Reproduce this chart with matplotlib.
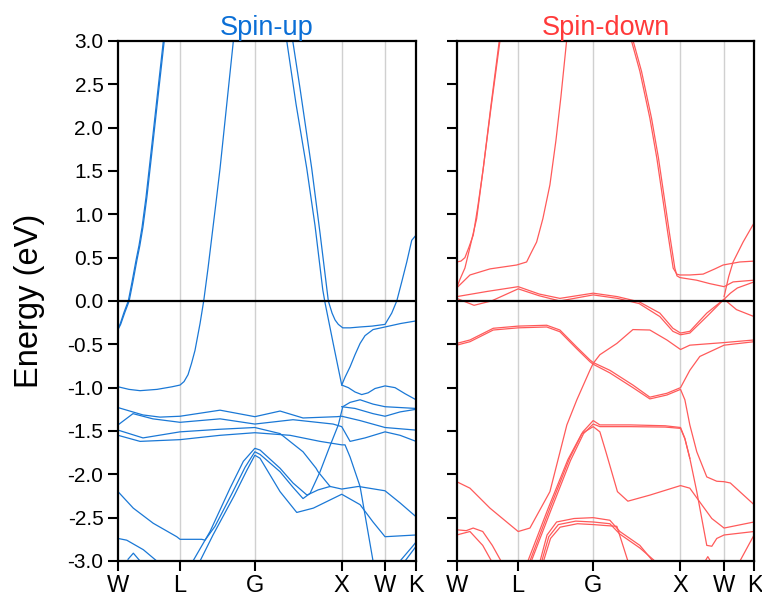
import matplotlib
matplotlib.use("Agg")
import matplotlib.pyplot as plt

plt.rcParams['font.family'] = ['Liberation Sans', 'DejaVu Sans']
plt.rcParams['axes.unicode_minus'] = False

# high-symmetry points along the FCC path (units of 2*pi/a)
kpath_labels = ["W", "L", "G", "X", "W", "K"]
kpath_pos = [0.0, 0.7071, 1.5731, 2.5731, 3.0731, 3.4267]

energy_ticks = [3.0, 2.5, 2.0, 1.5, 1.0, 0.5, 0.0, -0.5, -1.0, -1.5, -2.0, -2.5, -3.0]

# ---- spin-up bands: (k, E) ----
up_bands = [
    ([0, 0.023, 0.069, 0.118, 0.161, 0.207, 0.241, 0.276, 0.322, 0.391, 0.460, 0.521, 0.558],
     [-0.31, -0.27, -0.13, 0.0, 0.22, 0.47, 0.64, 0.85, 1.20, 1.82, 2.45, 3.0, 3.33]),
    ([0, 0.030, 0.079, 0.128, 0.171, 0.217, 0.251, 0.286, 0.332, 0.401, 0.470, 0.531, 0.568],
     [-0.33, -0.27, -0.13, 0.0, 0.22, 0.47, 0.64, 0.85, 1.20, 1.82, 2.45, 3.0, 3.33]),
    ([0, 0.126, 0.253, 0.448, 0.621, 0.713, 0.759, 0.805, 0.845, 0.885, 0.943, 0.985, 1.035, 1.081, 1.127, 1.173, 1.248, 1.326, 1.357],
     [-0.99, -1.02, -1.035, -1.02, -0.99, -0.97, -0.93, -0.85, -0.72, -0.57, -0.26, 0.0, 0.38, 0.76, 1.14, 1.53, 2.25, 3.0, 3.3]),
    ([1.972, 2.009, 2.093, 2.227, 2.323, 2.418, 2.461, 2.496, 2.533, 2.584, 2.668, 2.783, 2.921, 3.070, 3.147, 3.205, 3.262, 3.320, 3.377, 3.427],
     [3.25, 3.0, 2.45, 1.53, 0.78, 0.0, -0.14, -0.22, -0.27, -0.31, -0.31, -0.30, -0.29, -0.27, -0.14, 0.0, 0.22, 0.45, 0.70, 0.76]),
    ([1.907, 1.940, 2.047, 2.170, 2.265, 2.354, 2.380, 2.476, 2.572, 2.648, 2.725, 2.802, 2.875, 2.955, 3.070, 3.185, 3.300, 3.427],
     [3.25, 3.0, 2.27, 1.53, 0.87, 0.13, -0.02, -0.50, -0.97, -1.0, -1.05, -1.08, -1.06, -1.01, -0.98, -1.0, -1.07, -1.14]),
    ([2.572, 2.610, 2.668, 2.725, 2.783, 2.840, 2.932, 3.070, 3.25, 3.427],
     [-0.97, -0.88, -0.76, -0.62, -0.49, -0.40, -0.33, -0.30, -0.26, -0.23]),
    ([0, 0.287, 0.483, 0.713, 1.173, 1.573, 1.863, 2.127, 2.518, 2.572, 2.783, 3.070, 3.427],
     [-1.23, -1.315, -1.34, -1.33, -1.26, -1.335, -1.27, -1.35, -1.335, -1.33, -1.38, -1.46, -1.49]),
    ([0, 0.172, 0.40, 0.713, 1.173, 1.573, 2.012, 2.472, 2.572, 2.668, 2.840, 3.070, 3.243, 3.427],
     [-1.43, -1.30, -1.36, -1.40, -1.36, -1.42, -1.37, -1.42, -1.45, -1.62, -1.58, -1.51, -1.55, -1.62]),
    ([2.572, 2.725, 2.932, 3.070, 3.243, 3.427],
     [-1.22, -1.24, -1.30, -1.33, -1.28, -1.25]),
    ([0, 0.287, 0.713, 1.173, 1.573, 1.863, 2.127, 2.277, 2.30, 2.438],
     [-1.49, -1.58, -1.51, -1.48, -1.46, -1.53, -1.74, -1.93, -1.97, -2.14]),
    ([0, 0.253, 0.713, 1.173, 1.573, 1.978, 2.323, 2.572, 2.610, 2.668, 2.783, 2.932],
     [-1.55, -1.62, -1.60, -1.55, -1.52, -1.55, -1.62, -1.66, -1.66, -1.80, -2.14, -3.0]),
    # three bands peaking at G
    ([0.862, 1.058, 1.288, 1.441, 1.573, 1.633, 1.863, 2.012, 2.173, 2.300, 2.438, 2.572, 2.764, 3.070, 3.243, 3.427],
     [-3.0, -2.66, -2.16, -1.85, -1.70, -1.72, -1.93, -2.10, -2.24, -2.18, -2.14, -2.17, -2.14, -2.19, -2.33, -2.49]),
    ([0, 0.175, 0.405, 0.675, 0.713, 0.963, 1.000, 1.115, 1.311, 1.460, 1.573, 1.633, 1.863, 2.012, 2.127, 2.208, 2.323, 2.426, 2.533, 2.584, 2.668, 2.783, 2.932, 3.070, 3.427],
     [-2.20, -2.39, -2.565, -2.72, -2.75, -2.75, -2.76, -2.60, -2.22, -1.92, -1.74, -1.77, -1.97, -2.15, -2.28, -2.22, -1.97, -1.70, -1.43, -1.22, -1.17, -1.14, -1.19, -1.22, -1.24]),
    ([0.943, 1.092, 1.334, 1.483, 1.573, 1.633, 1.863, 2.055, 2.246, 2.572, 2.783, 2.932, 3.070, 3.427],
     [-3.0, -2.70, -2.25, -1.95, -1.78, -1.815, -2.20, -2.44, -2.39, -2.23, -2.35, -2.55, -2.72, -2.70]),
    ([0, 0.100, 0.291, 0.445],
     [-2.74, -2.76, -2.87, -3.0]),
    ([0.115, 0.176, 0.253],
     [-2.98, -2.91, -3.0]),
    ([3.243, 3.396, 3.427],
     [-3.0, -2.82, -2.78]),
    ([3.30, 3.405, 3.427],
     [-3.0, -2.86, -2.83]),
]

# ---- spin-down bands: (k, E) ----
down_bands = [
    ([0, 0.049, 0.095, 0.141, 0.191, 0.245, 0.306, 0.394, 0.490, 0.527],
     [0.45, 0.46, 0.50, 0.62, 0.76, 1.10, 1.53, 2.25, 3.0, 3.3]),
    ([0, 0.038, 0.095, 0.153, 0.230, 0.302, 0.394, 0.498, 0.538],
     [0.15, 0.25, 0.38, 0.62, 0.95, 1.50, 2.22, 3.0, 3.3]),
    ([0, 0.153, 0.383, 0.690, 0.805, 0.854, 0.920, 0.992, 1.073, 1.142, 1.199, 1.265, 1.297],
     [0.15, 0.30, 0.37, 0.415, 0.45, 0.55, 0.68, 0.95, 1.34, 1.85, 2.35, 3.0, 3.3]),
    ([0, 0.35, 0.708, 0.95, 1.188, 1.571, 1.85, 2.10, 2.338, 2.488, 2.576, 2.683, 2.878, 3.077, 3.15, 3.23, 3.422],
     [0.05, 0.11, 0.165, 0.08, 0.03, 0.09, 0.05, -0.01, -0.14, -0.315, -0.37, -0.35, -0.14, 0.02, 0.09, 0.15, 0.22]),
    ([0, 0.2, 0.4, 0.708, 0.95, 1.188, 1.571, 1.85, 2.10, 2.338, 2.488, 2.576, 2.683, 2.878, 3.077, 3.22, 3.422],
     [0.03, -0.05, 0.0, 0.14, 0.06, 0.0, 0.07, 0.03, -0.03, -0.18, -0.35, -0.39, -0.37, -0.18, 0.02, -0.10, -0.18]),
    ([1.932, 2.012, 2.108, 2.223, 2.303, 2.376, 2.430, 2.491, 2.533, 2.568, 2.683, 2.836, 2.971, 3.066, 3.258, 3.422],
     [3.3, 3.0, 2.65, 2.11, 1.65, 1.15, 0.78, 0.38, 0.31, 0.30, 0.30, 0.31, 0.37, 0.415, 0.45, 0.46]),
    ([1.952, 2.031, 2.127, 2.242, 2.322, 2.395, 2.449, 2.510, 2.535, 2.568, 2.760, 2.913, 3.077, 3.181, 3.422],
     [3.3, 3.0, 2.65, 2.11, 1.65, 1.15, 0.78, 0.38, 0.29, 0.27, 0.24, 0.20, 0.165, 0.22, 0.24]),
    ([3.077, 3.13, 3.181, 3.296, 3.422],
     [0.05, 0.28, 0.45, 0.68, 0.90]),
    ([0, 0.153, 0.421, 0.708, 1.036, 1.188, 1.38, 1.533, 1.571, 1.763, 2.028, 2.223, 2.419, 2.576, 2.683, 2.798, 3.077, 3.422],
     [-0.49, -0.45, -0.315, -0.29, -0.28, -0.335, -0.53, -0.68, -0.71, -0.80, -0.97, -1.11, -1.065, -1.0, -0.80, -0.64, -0.51, -0.47]),
    ([0, 0.153, 0.421, 0.708, 1.036, 1.188, 1.38, 1.533, 1.571, 1.763, 2.028, 2.223, 2.419, 2.576, 2.626, 2.683, 2.763, 2.878, 2.993, 3.077, 3.149, 3.258, 3.422],
     [-0.51, -0.47, -0.335, -0.31, -0.30, -0.355, -0.55, -0.70, -0.73, -0.83, -1.0, -1.13, -1.085, -1.02, -1.14, -1.43, -1.74, -2.03, -2.08, -2.085, -2.10, -2.20, -2.35]),
    ([0, 0.153, 0.383, 0.708, 0.843, 1.073, 1.268, 1.383, 1.533, 1.571, 1.648, 1.843, 2.028, 2.223, 2.419, 2.576, 2.683, 3.077, 3.422],
     [-2.085, -2.16, -2.39, -2.66, -2.62, -2.20, -1.43, -1.14, -0.80, -0.72, -0.62, -0.49, -0.33, -0.335, -0.45, -0.56, -0.51, -0.48, -0.45]),
    ([0.843, 1.073, 1.30, 1.452, 1.571, 1.648, 2.0, 2.4, 2.576, 2.626, 2.683, 2.763, 2.878, 2.936, 2.993, 3.077, 3.422],
     [-3.0, -2.39, -1.815, -1.51, -1.38, -1.43, -1.43, -1.44, -1.46, -1.585, -1.815, -2.20, -2.82, -2.83, -2.74, -2.70, -2.66]),
    ([0.86, 1.09, 1.31, 1.46, 1.571, 1.648, 2.0, 2.4, 2.576, 2.626, 2.683],
     [-3.0, -2.40, -1.84, -1.53, -1.42, -1.45, -1.45, -1.455, -1.47, -1.59, -1.815]),
    ([0.82, 1.05, 1.28, 1.44, 1.571, 1.648, 1.717, 1.85, 1.97, 2.223, 2.576, 2.683, 2.798, 2.936, 3.077, 3.422],
     [-3.0, -2.40, -1.83, -1.53, -1.45, -1.51, -1.74, -2.20, -2.31, -2.24, -2.13, -2.16, -2.32, -2.51, -2.62, -2.55]),
    ([0.96, 1.04, 1.15, 1.35, 1.571, 1.763, 1.878, 2.108, 2.257],
     [-3.0, -2.70, -2.55, -2.51, -2.50, -2.53, -2.66, -2.82, -3.0]),
    ([0.98, 1.06, 1.17, 1.37, 1.571, 1.763, 1.878, 2.108, 2.28],
     [-3.0, -2.72, -2.58, -2.54, -2.55, -2.57, -2.69, -2.85, -3.0]),
    ([1.00, 1.08, 1.19, 1.39, 1.571, 1.70, 1.843, 1.97],
     [-3.0, -2.74, -2.61, -2.57, -2.58, -2.59, -2.60, -3.0]),
    ([0, 0.11, 0.19, 0.30, 0.41, 0.51],
     [-2.64, -2.65, -2.62, -2.66, -2.82, -3.0]),
    ([0, 0.153, 0.30, 0.40],
     [-2.70, -2.66, -2.82, -3.0]),
    ([2.86, 2.89, 2.92],
     [-3.0, -2.95, -3.0]),
    ([3.26, 3.422],
     [-3.0, -2.70]),
]

up_color = "#1a78d6"
down_color = "#ff5a5a"
up_title_color = "#0b6fd6"
down_title_color = "#ff3a3a"

fig = plt.figure(figsize=(7.62, 5.98), dpi=100)
ax_up = fig.add_axes([0.1549, 0.0619, 0.3911, 0.8696])
ax_dn = fig.add_axes([0.5993, 0.0619, 0.3908, 0.8696])

for ax, bands, col, title, tcol in [
    (ax_up, up_bands, up_color, "Spin-up", up_title_color),
    (ax_dn, down_bands, down_color, "Spin-down", down_title_color),
]:
    for kp in kpath_pos[1:-1]:
        ax.axvline(kp, color="#d0d0d0", lw=1.0, zorder=1)
    for k, e in bands:
        ax.plot(k, e, color=col, lw=0.9, zorder=2)
    ax.axhline(0.0, color="black", lw=1.6, zorder=3)
    ax.set_xlim(kpath_pos[0], kpath_pos[-1])
    ax.set_ylim(-3.0, 3.0)
    ax.set_xticks(kpath_pos)
    ax.set_xticklabels(kpath_labels)
    ax.set_yticks(energy_ticks)
    ax.tick_params(direction="out", length=7, width=1.5, labelsize=15)
    ax.tick_params(axis="x", labelsize=17, pad=3)
    for s in ax.spines.values():
        s.set_linewidth(1.6)
    ax.set_title(title, color=tcol, fontsize=19.5, pad=4)

ax_up.set_yticklabels([f"{v:.1f}" for v in energy_ticks])
ax_dn.set_yticklabels([])
ax_up.set_ylabel("Energy (eV)", fontsize=23.5)
ax_up.yaxis.set_label_coords(-0.245, 0.5)

fig.savefig("out.png", dpi=100)
